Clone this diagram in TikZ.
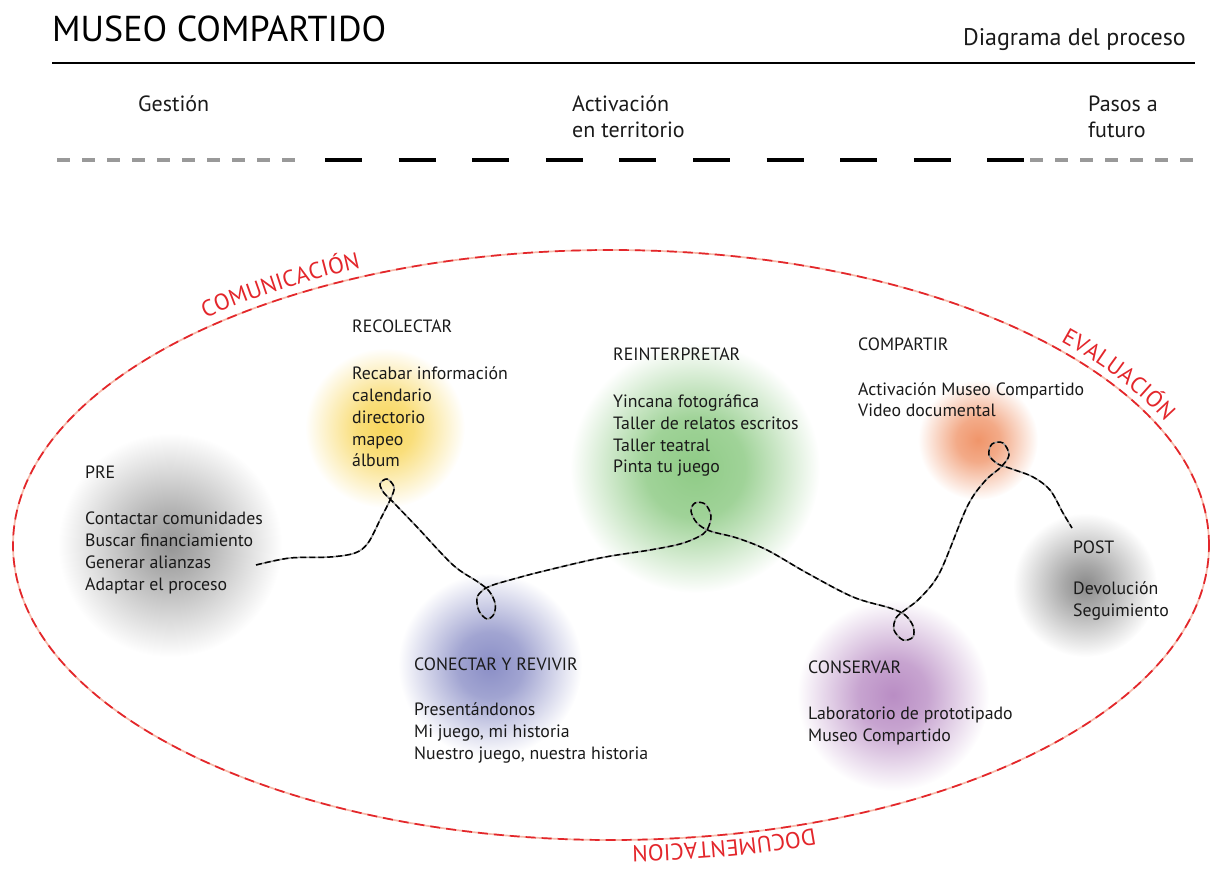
\documentclass[tikz,border=0pt]{standalone}
\usepackage{fontspec}
\setmainfont{PT Sans}
\usetikzlibrary{decorations.text}
\definecolor{myred}{HTML}{E3262B}
\definecolor{mypink}{HTML}{F6B9AA}
\definecolor{bgrayA}{HTML}{959595}
\definecolor{bgrayB}{HTML}{8A8A8A}
\definecolor{byellow}{HTML}{F8D65A}
\definecolor{bgreen}{HTML}{8FCB86}
\definecolor{borange}{HTML}{F0956A}
\definecolor{bblue}{HTML}{8A8EC6}
\definecolor{bpurple}{HTML}{B98DC4}
\definecolor{dashgray}{HTML}{999999}
\definecolor{txt}{HTML}{1A1A1A}
% the path's bounding box maps to the central 50bp square, so the circle edge is at 25bp
\pgfdeclareradialshading{shgrayA}{\pgfpoint{0bp}{0bp}}{color(0bp)=(bgrayA); color(7bp)=(bgrayA!75!white); color(25bp)=(white); color(50bp)=(white)}
\pgfdeclareradialshading{shgrayB}{\pgfpoint{0bp}{0bp}}{color(0bp)=(bgrayB); color(7bp)=(bgrayB!75!white); color(25bp)=(white); color(50bp)=(white)}
\pgfdeclareradialshading{shyellow}{\pgfpoint{0bp}{0bp}}{color(0bp)=(byellow); color(9bp)=(byellow!80!white); color(25bp)=(white); color(50bp)=(white)}
\pgfdeclareradialshading{shgreen}{\pgfpoint{0bp}{0bp}}{color(0bp)=(bgreen); color(10bp)=(bgreen!85!white); color(25bp)=(white); color(50bp)=(white)}
\pgfdeclareradialshading{shorange}{\pgfpoint{0bp}{0bp}}{color(0bp)=(borange); color(9bp)=(borange!80!white); color(25bp)=(white); color(50bp)=(white)}
\pgfdeclareradialshading{shblue}{\pgfpoint{0bp}{0bp}}{color(0bp)=(bblue); color(9bp)=(bblue!80!white); color(25bp)=(white); color(50bp)=(white)}
\pgfdeclareradialshading{shpurple}{\pgfpoint{0bp}{0bp}}{color(0bp)=(bpurple); color(9bp)=(bpurple!80!white); color(25bp)=(white); color(50bp)=(white)}
\begin{document}
\begin{tikzpicture}[x=1pt,y=1pt,
  body/.style={font=\fontsize{17.8}{21.8}\selectfont, inner sep=0pt, anchor=base west, align=left, text=txt},
  head/.style={font=\fontsize{22}{26}\selectfont, inner sep=0pt, anchor=base west, align=left, text=txt},
  greydash/.style={dashgray, line width=4pt, dash pattern=on 13pt off 12pt},
  blackdash/.style={black, line width=4pt, dash pattern=on 37pt off 36.6pt},
  threadbase/.style={dashgray, line width=1.5pt},
  threadtop/.style={black, line width=1.5pt, dash pattern=on 6pt off 3pt},
  ringbase/.style={mypink, line width=1.7pt},
  ringtop/.style={myred, line width=1.7pt, dash pattern=on 10pt off 6pt}]
\useasboundingbox (0,0) rectangle (1211,-874);
% header
\node[font=\fontsize{36}{40}\selectfont, inner sep=0pt, anchor=base west, text=black] (title) at (52,-42) {MUSEO COMPARTIDO};
\node[font=\fontsize{24}{28}\selectfont, inner sep=0pt, anchor=base east, text=txt] (sub) at (1186,-46) {Diagrama del proceso};
\draw[black, line width=2pt] (52,-63) -- (1195,-63);
\node[head] (gest) at (138,-112) {Gestión};
\node[head] (activ) at (572,-138) {Activación\\en territorio};
\node[head] (pasos) at (1088,-138) {Pasos a\\futuro};
\draw[greydash] (57,-160) -- (295,-160);
\draw[blackdash] (325,-160) -- (1024,-160);
\draw[greydash] (1030,-160) -- (1194,-160);
% blobs
\shade[shading=shgrayA] (170,-545) circle[radius=112];
\shade[shading=shyellow] (385,-428) circle[radius=80];
\shade[shading=shgreen] (695,-468) circle[radius=125];
\shade[shading=shorange] (978,-440) circle[radius=60];
\shade[shading=shgrayB] (1085,-585) circle[radius=72];
\shade[shading=shblue] (490,-665) circle[radius=92];
\shade[shading=shpurple] (893,-695) circle[radius=96];
% ring
\draw[ringbase] (611,-545) ellipse[x radius=598, y radius=295];
\draw[ringtop] (611,-545) ellipse[x radius=598, y radius=295];
\path[decorate, decoration={text along path, text={|\fontsize{23}{26}\selectfont\color{myred}|COMUNICACIÓN}, text align=center, raise=9pt}]
  (611,-545) ++(153:598 and 295) arc[start angle=153, end angle=99, x radius=598, y radius=295];
\path[decorate, decoration={text along path, text={|\fontsize{23}{26}\selectfont\color{myred}|EVALUACIÓN}, text align=center, raise=8pt}]
  (611,-545) ++(53:598 and 295) arc[start angle=53, end angle=7, x radius=598, y radius=295];
\path[decorate, decoration={text along path, text={|\fontsize{23}{26}\selectfont\color{myred}|DOCUMENTACION}, text align=center, raise=6pt}]
  (611,-545) ++(-48:598 and 295) arc[start angle=-48, end angle=-108, x radius=598, y radius=295];
% thread
\coordinate (tstart) at (256,-565);
\coordinate (tend) at (1072,-528);
\foreach \st in {threadbase, threadtop}{
\draw[\st] plot[smooth, tension=0.55] coordinates {(tstart) (290,-558) (330,-557) (355,-553) (368,-543) (380,-520) (391,-498) (394,-487) (387,-479) (380,-484) (384,-493) (392,-501) (417,-527) (453,-565) (478,-582) (489,-591) (495,-603) (494,-614) (487,-619) (479,-611) (477,-598) (483,-590) (493,-585) (510,-580) (540,-572) (600,-558) (650,-550) (680,-544) (698,-537) (707,-530) (711,-516) (705,-504) (695,-503) (691,-511) (697,-523) (710,-531) (737,-538) (767,-550) (807,-573) (853,-597) (890,-608) (905,-615) (913,-626) (913,-637) (903,-640) (894,-630) (896,-618) (905,-610) (920,-598) (940,-572) (967,-507) (985,-481) (1001,-467) (1009,-455) (1003,-443) (992,-444) (989,-455) (998,-464) (1012,-469) (1033,-477) (1050,-490) (1063,-513) (tend)};
}
% texts (multi-line nodes: base anchor is the last line's baseline)
\node[body] (pre) at (85,-479) {PRE};
\node[body] (prelist) at (85,-590) {Contactar comunidades\\Buscar financiamiento\\Generar alianzas\\Adaptar el proceso};
\node[body] (reco) at (352,-333) {RECOLECTAR};
\node[body] (recolist) at (352,-467) {Recabar información\\calendario\\directorio\\mapeo\\álbum};
\node[body] (rein) at (613,-361) {REINTERPRETAR};
\node[body] (reinlist) at (613,-473) {Yincana fotográfica\\Taller de relatos escritos\\Taller teatral\\Pinta tu juego};
\node[body] (comp) at (858,-351) {COMPARTIR};
\node[body] (complist) at (858,-417) {Activación Museo Compartido\\Video documental};
\node[body] (post) at (1073,-554) {POST};
\node[body] (postlist) at (1073,-616) {Devolución\\Seguimiento};
\node[body] (cone) at (414,-670) {CONECTAR Y REVIVIR};
\node[body] (conelist) at (414,-759) {Presentándonos\\Mi juego, mi historia\\Nuestro juego, nuestra historia};
\node[body] (cons) at (808,-673) {CONSERVAR};
\node[body] (conslist) at (808,-741.5) {Laboratorio de prototipado\\Museo Compartido};
\end{tikzpicture}
\end{document}
